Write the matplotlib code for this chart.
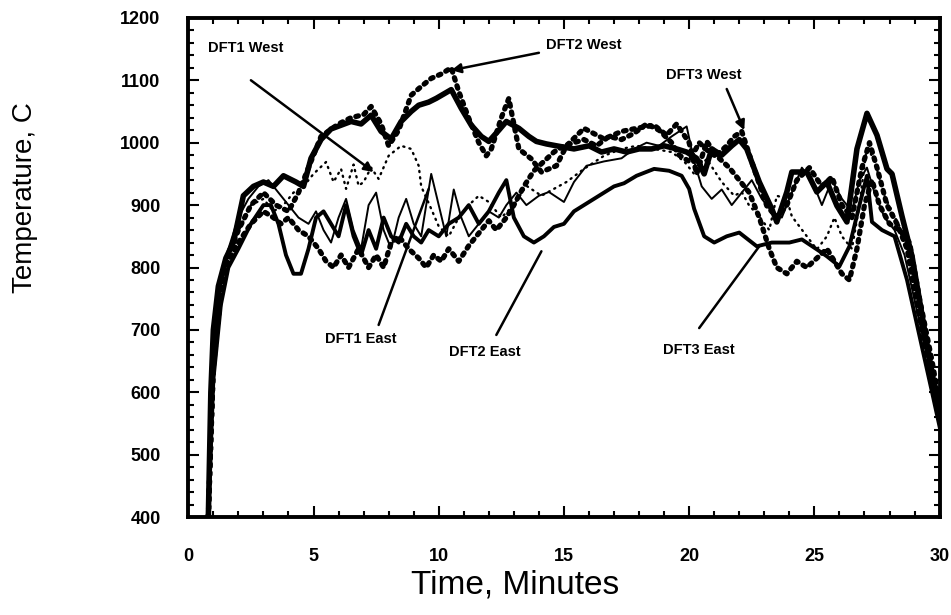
import numpy as np
import matplotlib
matplotlib.use("Agg")
import matplotlib.pyplot as plt
from matplotlib.ticker import MultipleLocator

plt.rcParams['font.family'] = ['Liberation Sans', 'DejaVu Sans']

# ---- data (time in minutes, temperature in C) ----
t_dft3_west = [0.8, 0.9, 1.0, 1.2, 1.5, 1.8, 2.2, 2.6, 3.0, 3.4, 3.8, 4.3, 4.6, 4.9, 5.3, 5.7,
               6.1, 6.5, 6.9, 7.3, 7.7, 8.1, 8.5, 8.9, 9.2, 9.6, 9.9, 10.2, 10.5, 10.9, 11.3,
               11.7, 12.0, 12.4, 12.7, 13.2, 13.6, 13.9, 14.3, 14.7, 15.4, 16.0, 16.5, 17.0,
               17.5, 18.0, 18.5, 19.0, 19.5, 19.9, 20.3, 20.6, 20.9, 21.3, 21.7, 22.0, 22.3,
               22.8, 23.3, 23.5, 23.9, 24.1, 24.7, 25.1, 25.5, 25.9, 26.3, 26.7, 27.1, 27.5,
               27.9, 28.1, 28.5, 28.9, 29.4, 30.0]
T_dft3_west = [400, 600, 700, 770, 815, 840, 915, 930, 937, 930, 947, 937, 930, 975, 1005, 1022,
               1028, 1034, 1030, 1044, 1018, 1006, 1034, 1050, 1060, 1065, 1071, 1078, 1085, 1055,
               1028, 1010, 1002, 1020, 1034, 1023, 1010, 1002, 998, 995, 990, 995, 985, 990,
               985, 990, 990, 995, 990, 985, 975, 950, 990, 980, 995, 1005, 990,
               937, 894, 873, 921, 953, 953, 921, 937, 899, 873, 990, 1047, 1012,
               958, 950, 882, 818, 700, 560]

t_dft2_west = [0.8, 1.0, 1.3, 1.6, 2.0, 2.5, 3.0, 3.5, 4.0, 4.4, 4.8, 5.3, 6.0, 6.5, 7.0, 7.3,
               7.7, 8.0, 8.4, 8.9, 9.3, 9.7, 10.1, 10.5, 10.8, 11.2, 11.6, 11.9, 12.1, 12.5,
               12.8, 12.9, 13.2, 13.7, 14.1, 14.7, 15.1, 15.8, 16.6, 17.3, 17.9, 18.6, 19.1,
               19.5, 20.0, 20.3, 20.7, 21.1, 21.5, 21.8, 22.1, 22.5, 23.1, 23.5, 23.9, 24.3,
               24.8, 25.3, 25.7, 26.1, 26.5, 26.9, 27.2, 27.5, 27.9, 28.3, 28.7, 29.2, 29.7, 30.0]
T_dft2_west = [400, 650, 760, 820, 860, 900, 920, 900, 890, 920, 960, 1010, 1030, 1040, 1045, 1058,
               1030, 995, 1020, 1076, 1090, 1103, 1110, 1120, 1082, 1039, 1000, 979, 990, 1040,
               1071, 1050, 990, 974, 953, 963, 995, 1023, 1006, 1018, 1023, 1028, 1012,
               1030, 1000, 950, 1002, 980, 995, 1010, 1018, 969, 899, 880, 900, 940,
               960, 930, 945, 900, 880, 960, 1000, 960, 900, 870, 830, 720, 620, 560]

t_dft1_west = [0.8, 1.0, 1.3, 1.6, 2.1, 2.5, 3.0, 3.4, 3.8, 4.2, 4.6, 5.0, 5.5, 5.8, 6.1, 6.3,
               6.6, 6.8, 7.0, 7.3, 7.6, 8.0, 8.5, 8.9, 9.2, 9.3, 9.7, 10.0, 10.4, 10.8, 11.2,
               11.6, 12.0, 12.5, 13.0, 13.5, 14.1, 14.6, 15.1, 15.8, 16.6, 17.3, 17.9, 18.6,
               19.3, 19.8, 20.2, 20.7, 21.3, 21.8, 22.1, 22.4, 22.8, 23.2, 23.5, 23.9, 24.1,
               24.7, 25.1, 25.5, 25.8, 26.1, 26.5, 26.8, 27.1, 27.4, 27.8, 28.2, 28.6, 29.1,
               29.6, 30.0]
T_dft1_west = [400, 680, 780, 830, 866, 900, 910, 890, 900, 920, 930, 950, 969, 937, 958, 926,
               965, 931, 937, 960, 942, 979, 995, 990, 963, 930, 894, 866, 850, 880, 900,
               915, 905, 880, 900, 931, 915, 926, 937, 958, 979, 990, 995, 990,
               985, 970, 950, 974, 937, 915, 921, 899, 882, 860, 915, 910, 882,
               850, 829, 850, 880, 850, 830, 900, 995, 970, 915, 882, 850, 760,
               660, 590]

t_dft1_east = [0.8, 1.0, 1.3, 1.6, 2.0, 2.4, 2.8, 3.2, 3.6, 4.0, 4.4, 4.8, 5.1, 5.4, 5.7, 6.0,
               6.3, 6.6, 6.9, 7.2, 7.5, 7.8, 8.1, 8.4, 8.7, 9.0, 9.3, 9.7, 10.0, 10.3, 10.6,
               10.9, 11.2, 11.6, 12.0, 12.4, 12.7, 13.1, 13.5, 14.0, 14.4, 15.0, 15.4, 15.9,
               16.6, 17.3, 17.8, 18.3, 18.8, 19.3, 19.9, 20.2, 20.5, 20.9, 21.3, 21.7, 22.1,
               22.5, 22.9, 23.3, 23.7, 24.1, 24.5, 24.9, 25.3, 25.7, 26.1, 26.5, 26.8, 27.1,
               27.4, 27.8, 28.2, 28.6, 29.1, 29.6, 30.0]
T_dft1_east = [400, 660, 770, 830, 880, 910, 930, 940, 920, 900, 880, 870, 890, 860, 840, 880,
               910, 860, 830, 900, 920, 860, 830, 880, 910, 870, 850, 950, 900, 850, 925,
               880, 850, 870, 890, 880, 900, 920, 900, 915, 921, 905, 937, 963,
               970, 975, 990, 1000, 995, 1010, 1026, 970, 930, 910, 925, 900, 920,
               940, 910, 890, 880, 920, 960, 940, 900, 940, 910, 890, 940, 960,
               920, 880, 860, 820, 730, 640, 560]

t_dft2_east = [0.8, 1.0, 1.3, 1.6, 2.0, 2.5, 3.0, 3.3, 3.6, 3.9, 4.2, 4.5, 4.8, 5.1, 5.4, 5.7,
               6.0, 6.3, 6.6, 6.9, 7.2, 7.5, 7.8, 8.1, 8.4, 8.7, 9.0, 9.3, 9.6, 10.0, 10.4,
               10.8, 11.2, 11.6, 12.0, 12.4, 12.7, 13.0, 13.4, 13.8, 14.2, 14.6, 15.0, 15.4,
               15.8, 16.2, 16.6, 17.0, 17.4, 17.9, 18.6, 19.2, 19.7, 20.0, 20.2, 20.6, 21.0,
               21.5, 22.0, 22.7, 23.3, 24.0, 24.5, 25.1, 25.5, 26.0, 26.4, 26.8, 27.1, 27.3,
               27.7, 28.2, 28.7, 29.2, 29.7, 30.0]
T_dft2_east = [400, 620, 740, 800, 830, 870, 900, 900, 870, 820, 790, 790, 830, 880, 890, 870,
               850, 900, 850, 820, 860, 830, 880, 850, 840, 870, 850, 840, 860, 850, 870,
               880, 900, 870, 890, 920, 940, 880, 850, 840, 850, 865, 870, 890,
               900, 910, 920, 930, 935, 947, 958, 955, 947, 926, 894, 850, 840,
               850, 856, 834, 840, 840, 845, 829, 818, 802, 834, 900, 947, 873,
               860, 850, 780, 690, 600, 545]

t_dft3_east = [0.8, 1.0, 1.3, 1.6, 2.0, 2.5, 3.0, 3.4, 3.7, 4.0, 4.4, 4.8, 5.2, 5.5, 5.8, 6.1,
               6.4, 6.8, 7.2, 7.5, 7.8, 8.1, 8.4, 8.8, 9.2, 9.5, 9.8, 10.1, 10.4, 10.8, 11.2,
               11.6, 12.0, 12.3, 12.7, 13.0, 13.4, 13.8, 14.2, 14.6, 15.0, 15.4, 15.8, 16.3,
               16.8, 17.3, 17.8, 18.3, 18.8, 19.3, 19.6, 20.0, 20.4, 20.8, 21.2, 21.6, 22.0,
               22.4, 22.8, 23.2, 23.5, 23.9, 24.3, 24.7, 25.1, 25.5, 25.8, 26.1, 26.4, 26.7,
               27.0, 27.3, 27.6, 28.0, 28.4, 28.8, 29.2, 29.7, 30.0]
T_dft3_east = [400, 640, 760, 810, 840, 870, 890, 880, 870, 880, 860, 850, 830, 810, 800, 820,
               800, 830, 800, 820, 800, 840, 850, 830, 815, 800, 820, 810, 830, 810, 835,
               855, 875, 860, 880, 900, 930, 955, 970, 985, 995, 1000, 1005, 995,
               1010, 1005, 1015, 1030, 1020, 1000, 980, 970, 1000, 985, 975, 960, 940,
               920, 880, 830, 800, 790, 810, 800, 815, 830, 810, 790, 780, 830,
               900, 940, 900, 870, 860, 840, 750, 650, 580]

# label text, text position, arrow tip
labels = ['DFT1 West', 'DFT2 West', 'DFT3 West', 'DFT1 East', 'DFT2 East', 'DFT3 East']
label_xy = [(2.3, 1152), (15.8, 1156), (20.6, 1108), (6.9, 686), (11.85, 665), (20.4, 668)]
arrow_from = [(2.5, 1100), (14.0, 1144), (21.5, 1086), (7.6, 708), (12.3, 692), (20.4, 703)]
arrow_tip = [(7.4, 953), (10.5, 1116), (22.2, 1020), (9.6, 926), (14.1, 826), (22.8, 834)]
has_head = [True, True, True, False, False, False]

fig = plt.figure(figsize=(9.51, 6.15), dpi=100)
ax = fig.add_axes([0.198, 0.159, 0.79, 0.812])

dots = dict(linestyle=(0, (0.5, 1.1)), dash_capstyle='round')
ax.plot(t_dft2_east, T_dft2_east, color='black', lw=2.8)
ax.plot(t_dft1_east, T_dft1_east, color='black', lw=1.4)
ax.plot(t_dft1_west, T_dft1_west, color='black', lw=1.7, linestyle=(0, (0.5, 2.2)),
        dash_capstyle='round')
ax.plot(t_dft3_east, T_dft3_east, color='black', lw=3.8, **dots)
ax.plot(t_dft2_west, T_dft2_west, color='black', lw=3.8, **dots)
ax.plot(t_dft3_west, T_dft3_west, color='black', lw=4.0)

for lab, xy, src, tip, head in zip(labels, label_xy, arrow_from, arrow_tip, has_head):
    ax.text(xy[0], xy[1], lab, ha='center', va='center', fontsize=10.5, fontweight='bold')
    style = '-|>' if head else '-'
    ax.annotate('', xy=tip, xytext=src,
                arrowprops=dict(arrowstyle=style, color='black', lw=1.8,
                                mutation_scale=14, shrinkA=0, shrinkB=0))

ax.set_xlim(0, 30)
ax.set_ylim(400, 1200)
ax.xaxis.set_major_locator(MultipleLocator(5))
ax.xaxis.set_minor_locator(MultipleLocator(1))
ax.yaxis.set_major_locator(MultipleLocator(100))
ax.yaxis.set_minor_locator(MultipleLocator(20))
ax.tick_params(which='both', direction='in', top=True, right=True, width=1.5)
ax.tick_params(which='major', length=8, labelsize=13)
ax.tick_params(which='minor', length=4)
ax.tick_params(axis='x', which='major', pad=22)
ax.tick_params(axis='y', which='major', pad=20)
for lab in ax.get_xticklabels() + ax.get_yticklabels():
    lab.set_fontweight('bold')
for sp in ax.spines.values():
    sp.set_linewidth(2.8)

ax.set_xlabel('Time, Minutes', fontsize=24)
ax.set_ylabel('Temperature, C', fontsize=20)
# labels sit off-centre in the scan
ax.xaxis.set_label_coords(0.435, -0.105)
ax.yaxis.set_label_coords(-0.20, 0.64)

fig.savefig('out.png', dpi=100)
